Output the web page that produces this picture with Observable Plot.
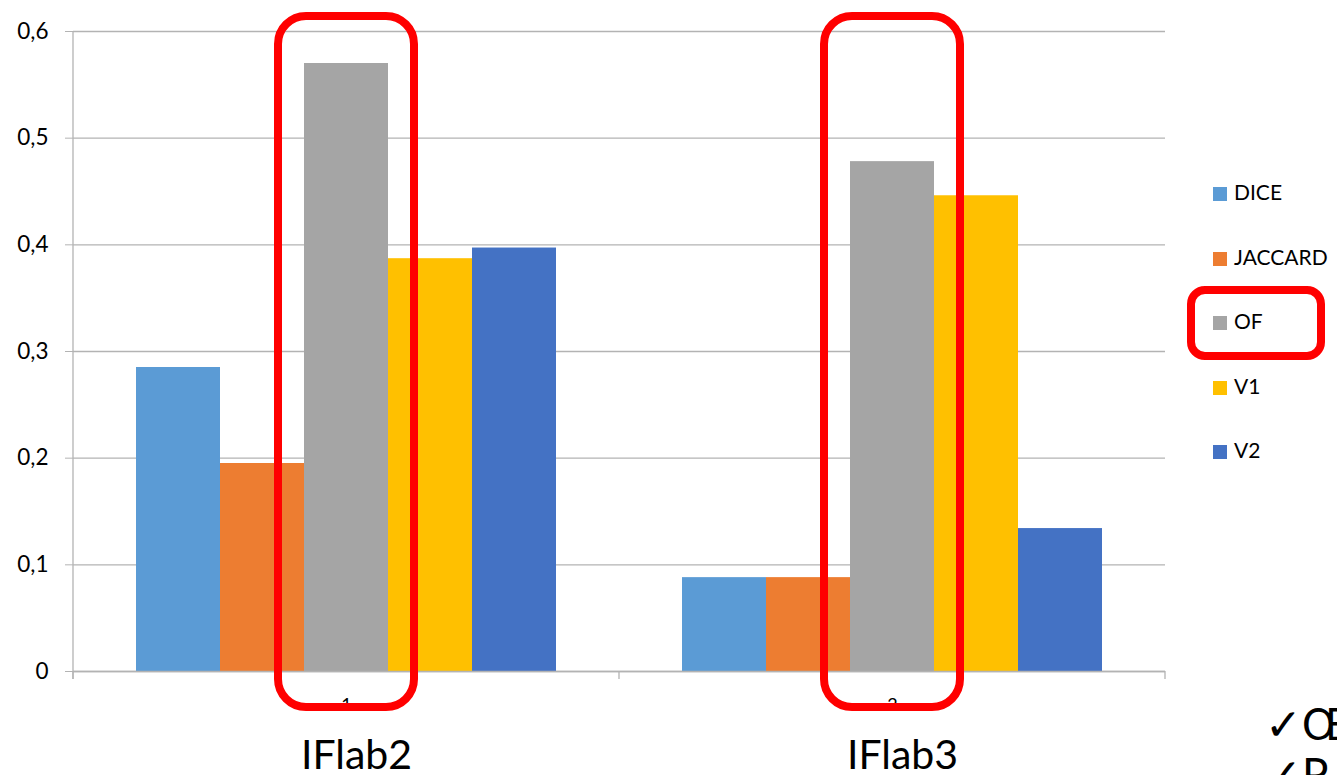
<!DOCTYPE html>
<html>
<head>
<meta charset="utf-8">
<script src="https://cdn.jsdelivr.net/npm/d3@7"></script>
<script src="https://cdn.jsdelivr.net/npm/@observablehq/plot@0.6"></script>
<style>
  html, body { margin: 0; padding: 0; background: #fff; overflow: hidden; }
  #wrap { position: relative; width: 1337px; height: 775px; font-family: Lato, "Open Sans", sans-serif; color: #000; }
  #legend { position: absolute; left: 1213px; top: 0; }
  .item { position: absolute; left: 0; white-space: nowrap; font-size: 21px; line-height: 20px; }
  .item .sw { display: inline-block; width: 14px; height: 14px; vertical-align: -1px; margin-right: 7px; }
  #legendMark { position: absolute; left: 1187px; top: 286px; width: 122px; height: 58px; border: 8px solid #ff0000; border-radius: 18px; }
  #notes { position: absolute; left: 1265px; top: 698px; font-size: 44px; line-height: 50px; white-space: nowrap; }
</style>
</head>
<body>
<div id="wrap">
  <div id="chart"></div>
  <div id="legend"></div>
  <div id="legendMark"></div>
  <div id="notes">✓Œ<br>✓P</div>
</div>
<script>
// Groups (x categories), their display names and the series shown per group
const groups = ["1", "2"];
const groupNames = ["IFlab2", "IFlab3"];
const series = ["DICE", "JACCARD", "OF", "V1", "V2"];
const seriesColors = ["#5b9bd5", "#ed7d31", "#a5a5a5", "#ffc000", "#4472c4"];

// Scores per series, one array per group
const iflab2Values = [0.285, 0.195, 0.570, 0.387, 0.397];
const iflab3Values = [0.088, 0.088, 0.478, 0.446, 0.134];

const yTicks = [0, 0.1, 0.2, 0.3, 0.4, 0.5, 0.6];
const highlighted = "OF";

const byGroup = [iflab2Values, iflab3Values];
const data = groups.flatMap((g, i) =>
  series.map((s, j) => ({group: g, series: s, value: byGroup[i][j]}))
);

const fmt = d => String(d).replace(".", ",");
const gridColor = "#b3b3b3";
const yMax = d3.max(yTicks);

const plot = Plot.plot({
  width: 1337,
  height: 775,
  marginLeft: 73,
  marginRight: 172,
  marginTop: 31,
  marginBottom: 104,
  style: {fontFamily: "Lato, 'Open Sans', sans-serif", background: "white", color: "black", overflow: "visible"},
  fx: {domain: groups, padding: 0, label: null, axis: null},
  x: {domain: series, paddingInner: 0, paddingOuter: 0.75, axis: null},
  y: {domain: [0, yMax], label: null, axis: null},
  color: {domain: series, range: seriesColors},
  marks: [
    Plot.gridY(yTicks, {stroke: gridColor, strokeOpacity: 1, strokeWidth: 1.3}),
    Plot.barY(data, {fx: "group", x: "series", y: "value", fill: "series"}),
    Plot.ruleY([0], {stroke: gridColor, strokeWidth: 1.3}),
    Plot.axisY(yTicks, {anchor: "left", tickFormat: fmt, tickSize: 8, tickPadding: 17, fontSize: 22.5, stroke: gridColor, label: null}),
    Plot.axisFx({anchor: "bottom", tickSize: 0, tickPadding: 27, fontSize: 18, label: null}),
    Plot.axisFx({anchor: "bottom", tickSize: 0, tickPadding: 68, fontSize: 41, dx: 10, tickFormat: g => groupNames[groups.indexOf(g)], label: null}),
    // highlight frame around the OF bar of each group
    Plot.barY(data.filter(d => d.series === highlighted), {
      fx: "group", x: "series", y1: 0, y2: yMax,
      fill: "none", stroke: "#ff0000", strokeWidth: 8, rx: 28,
      insetLeft: -26, insetRight: -26, insetTop: -15, insetBottom: -36
    })
  ]
});

document.getElementById("chart").appendChild(plot);

// Category separator ticks along the baseline and the vertical axis line
const fx = plot.scale("fx");
const y = plot.scale("y");
const svg = d3.select(plot);
const edges = [fx.apply(groups[0]), ...groups.map(g => fx.apply(g) + fx.bandwidth)];
const y0 = y.apply(0);
const axisLayer = svg.insert("g", "g[aria-label='bar']").attr("stroke", gridColor).attr("stroke-width", 1.3);
axisLayer.append("line").attr("x1", edges[0]).attr("x2", edges[0]).attr("y1", y.apply(yMax)).attr("y2", y0 + 8);
edges.forEach(x => axisLayer.append("line").attr("x1", x).attr("x2", x).attr("y1", y0).attr("y2", y0 + 8));

// Legend
const legend = d3.select("#legend");
const legendTop = 182, legendStep = 64.5;
series.forEach((s, i) => {
  const item = legend.append("div").attr("class", "item").style("top", (legendTop + i * legendStep) + "px");
  item.append("span").attr("class", "sw").style("background", seriesColors[i]);
  item.append("span").text(s);
});
</script>
</body>
</html>
